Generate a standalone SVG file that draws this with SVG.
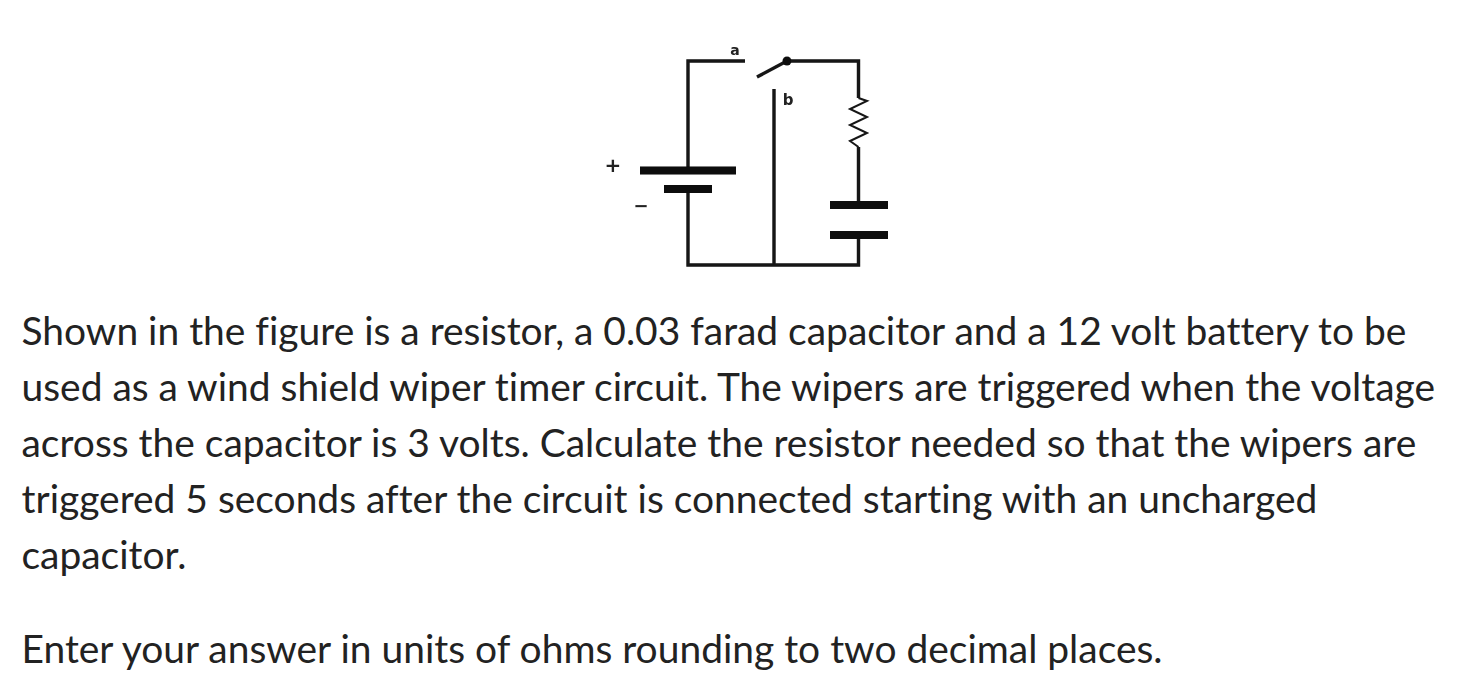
<svg xmlns="http://www.w3.org/2000/svg" width="1462" height="700" viewBox="0 0 1462 700">
<defs><filter id="soft" x="-5%" y="-5%" width="110%" height="110%"><feGaussianBlur stdDeviation="0.6"/></filter></defs>
<style>
.w{fill:none;stroke:#151515;stroke-width:3.4}
.p{fill:none;stroke:#0c0c0c;stroke-width:8}
.t{font-family:Lato,"Liberation Sans",sans-serif;font-size:38.95px;fill:#222;font-variant-ligatures:none}
.s{font-family:"DejaVu Sans",sans-serif;font-weight:bold;fill:#222;text-anchor:middle}
</style>
<rect width="1462" height="700" fill="#fff"/>
<g filter="url(#soft)">
<g id="connectors">
<path class="w" d="M745 61H688V170M688 190V265H858.500V236M858.500 205V147M858.500 98V61H787M774 89V265"/>
<path class="w" d="M757 77L787 61"/>
</g>
<g id="switch-pivot"><circle cx="787" cy="61" r="4.500" fill="#111"/></g>
<g id="battery"><path class="p" d="M640 170.500H736M664 189H712"/></g>
<g id="capacitor"><path class="p" d="M830 205H888M830 235H888"/></g>
<g id="resistor"><path class="w" style="stroke-width:2" d="M858.500 98L867 101L850 109L867 117L850 125L867 133L850 141L858.500 147"/></g>
<g id="labels">
<text class="s" x="735" y="55" font-size="14">a</text>
<text class="s" x="788" y="105" font-size="15">b</text>
<text class="s" x="613" y="172" font-size="20">+</text>
<text class="s" x="641" y="212" font-size="18">−</text>
</g>
</g>
<g id="text">
<text class="t" x="21.500" y="345">Shown in the figure is a resistor, a 0.03 farad capacitor and a 12 volt battery to be</text>
<text class="t" x="21.500" y="401">used as a wind shield wiper timer circuit. The wipers are triggered when the voltage</text>
<text class="t" x="21.500" y="457">across the capacitor is 3 volts. Calculate the resistor needed so that the wipers are</text>
<text class="t" x="21.500" y="513">triggered 5 seconds after the circuit is connected starting with an uncharged</text>
<text class="t" x="21.500" y="569">capacitor.</text>
<text class="t" x="21.500" y="663">Enter your answer in units of ohms rounding to two decimal places.</text>
</g>
</svg>
